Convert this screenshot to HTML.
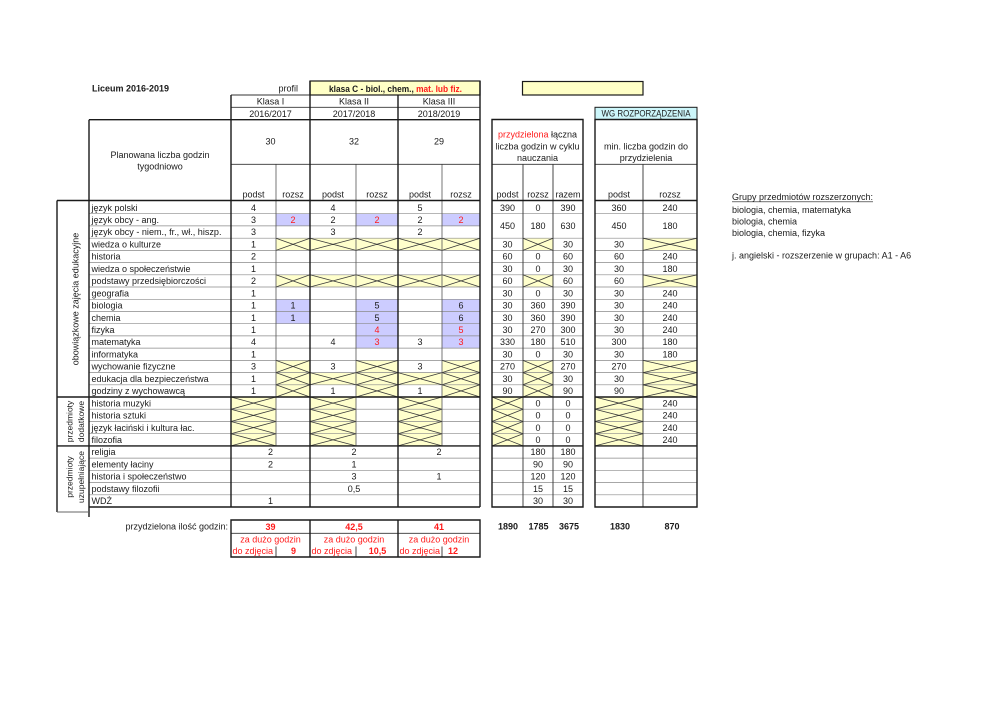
<!DOCTYPE html>
<html><head><meta charset="utf-8"><style>
html,body{margin:0;padding:0;background:#fff;}
svg{display:block;}
.t{font-family:"Liberation Sans",sans-serif;font-size:9px;fill:#1a1a1a;}
.c{text-anchor:middle;}
.e{text-anchor:end;}
.r{fill:#ff1a1a;}
.b{font-weight:bold;}
.s{font-size:8.5px;}
</style></head><body>
<svg width="992" height="702" viewBox="0 0 992 702" xmlns="http://www.w3.org/2000/svg">
<rect width="992" height="702" fill="#fff"/>

<!-- yellow / cyan header boxes -->
<rect x="310" y="81" width="170" height="14" fill="#ffffc6" stroke="#1a1a1a" stroke-width="1.2"/>
<rect x="522.5" y="81.5" width="120.5" height="13.5" fill="#ffffc6" stroke="#1a1a1a" stroke-width="1.2"/>
<rect x="595" y="107.3" width="102" height="12.2" fill="#ccf6fa" stroke="#1a1a1a" stroke-width="1"/>

<!-- blue cells -->
<g fill="#ccccff">
<rect x="276" y="213.7" width="34" height="12.2"/><rect x="356" y="213.7" width="42" height="12.2"/><rect x="442" y="213.7" width="38" height="12.2"/>
<rect x="276" y="299.3" width="34" height="24.4"/><rect x="356" y="299.3" width="42" height="48.8"/><rect x="442" y="299.3" width="38" height="48.8"/>
</g>

<!-- cross cells fills -->
<g fill="#ffffcc">
<rect x="276" y="238.2" width="204" height="12.2"/>
<rect x="276" y="274.8" width="204" height="12.2"/>
<rect x="276" y="360.4" width="34" height="36.6"/>
<rect x="356" y="360.4" width="42" height="36.6"/>
<rect x="442" y="360.4" width="38" height="36.6"/>
<rect x="310" y="372.6" width="46" height="12.2"/>
<rect x="398" y="372.6" width="44" height="12.2"/>
<rect x="231" y="397" width="45" height="48.9"/>
<rect x="310" y="397" width="46" height="48.9"/>
<rect x="398" y="397" width="44" height="48.9"/>
<rect x="523" y="238.2" width="30" height="12.2"/>
<rect x="523" y="274.8" width="30" height="12.2"/>
<rect x="523" y="360.4" width="30" height="36.6"/>
<rect x="492" y="397" width="31" height="48.9"/>
<rect x="643" y="238.2" width="54" height="12.2"/>
<rect x="643" y="274.8" width="54" height="12.2"/>
<rect x="643" y="360.4" width="54" height="36.6"/>
<rect x="595" y="397" width="48" height="48.9"/>
</g>

<!-- row grid lines -->
<path stroke="#8a8a8a" stroke-width="0.7" fill="none" d="
M89 213.7H480M89 225.9H480M89 238.2H480M89 250.4H480M89 262.6H480M89 274.8H480M89 287H480M89 299.3H480M89 311.5H480M89 323.7H480M89 335.9H480M89 348.1H480M89 360.4H480M89 372.6H480M89 384.8H480M89 409.2H480M89 421.5H480M89 433.7H480M89 458.1H480M89 470.3H480M89 482.6H480M89 494.8H480
M492 213.7H583M492 238.2H583M492 250.4H583M492 262.6H583M492 274.8H583M492 287H583M492 299.3H583M492 311.5H583M492 323.7H583M492 335.9H583M492 348.1H583M492 360.4H583M492 372.6H583M492 384.8H583M492 409.2H583M492 421.5H583M492 433.7H583M492 458.1H583M492 470.3H583M492 482.6H583M492 494.8H583
M595 213.7H697M595 238.2H697M595 250.4H697M595 262.6H697M595 274.8H697M595 287H697M595 299.3H697M595 311.5H697M595 323.7H697M595 335.9H697M595 348.1H697M595 360.4H697M595 372.6H697M595 384.8H697M595 409.2H697M595 421.5H697M595 433.7H697M595 458.1H697M595 470.3H697M595 482.6H697M595 494.8H697
"/>

<!-- cross diagonals -->
<path stroke="#3a3a3a" stroke-width="0.8" fill="none" d="
M276 238.2L310 250.4M276 250.4L310 238.2M310 238.2L356 250.4M310 250.4L356 238.2M356 238.2L398 250.4M356 250.4L398 238.2M398 238.2L442 250.4M398 250.4L442 238.2M442 238.2L480 250.4M442 250.4L480 238.2
M276 274.8L310 287M276 287L310 274.8M310 274.8L356 287M310 287L356 274.8M356 274.8L398 287M356 287L398 274.8M398 274.8L442 287M398 287L442 274.8M442 274.8L480 287M442 287L480 274.8
M276 360.4L310 372.6M276 372.6L310 360.4M276 372.6L310 384.8M276 384.8L310 372.6M276 384.8L310 397M276 397L310 384.8
M356 360.4L398 372.6M356 372.6L398 360.4M356 372.6L398 384.8M356 384.8L398 372.6M356 384.8L398 397M356 397L398 384.8
M442 360.4L480 372.6M442 372.6L480 360.4M442 372.6L480 384.8M442 384.8L480 372.6M442 384.8L480 397M442 397L480 384.8
M310 372.6L356 384.8M310 384.8L356 372.6M398 372.6L442 384.8M398 384.8L442 372.6
M231 397L276 409.2M231 409.2L276 397M231 409.2L276 421.5M231 421.5L276 409.2M231 421.5L276 433.7M231 433.7L276 421.5M231 433.7L276 445.9M231 445.9L276 433.7
M310 397L356 409.2M310 409.2L356 397M310 409.2L356 421.5M310 421.5L356 409.2M310 421.5L356 433.7M310 433.7L356 421.5M310 433.7L356 445.9M310 445.9L356 433.7
M398 397L442 409.2M398 409.2L442 397M398 409.2L442 421.5M398 421.5L442 409.2M398 421.5L442 433.7M398 433.7L442 421.5M398 433.7L442 445.9M398 445.9L442 433.7
M523 238.2L553 250.4M523 250.4L553 238.2M523 274.8L553 287M523 287L553 274.8
M523 360.4L553 372.6M523 372.6L553 360.4M523 372.6L553 384.8M523 384.8L553 372.6M523 384.8L553 397M523 397L553 384.8
M492 397L523 409.2M492 409.2L523 397M492 409.2L523 421.5M492 421.5L523 409.2M492 421.5L523 433.7M492 433.7L523 421.5M492 433.7L523 445.9M492 445.9L523 433.7
M643 238.2L697 250.4M643 250.4L697 238.2M643 274.8L697 287M643 287L697 274.8
M643 360.4L697 372.6M643 372.6L697 360.4M643 372.6L697 384.8M643 384.8L697 372.6M643 384.8L697 397M643 397L697 384.8
M595 397L643 409.2M595 409.2L643 397M595 409.2L643 421.5M595 421.5L643 409.2M595 421.5L643 433.7M595 433.7L643 421.5M595 433.7L643 445.9M595 445.9L643 433.7
"/>

<!-- thin vertical lines inside classes -->
<path stroke="#555" stroke-width="0.8" fill="none" d="M276 164.3V445.9M356 164.3V445.9M442 164.3V445.9"/>
<path stroke="#333" stroke-width="0.9" fill="none" d="M231 164.3H480M231 107.3H480M231 95H310M523 164.3V507M553 164.3V507M643 164.3V507M492 164.3H583M595 164.3H697M231 533.3H480M276 546.5V557M356 546.5V557M442 546.5V557"/>

<!-- thick lines -->
<path stroke="#1a1a1a" stroke-width="1.4" fill="none" d="
M231 95V119.7M57 200.5H480M57 397H480M57 445.9H480M89 507H480
M89 119.7H480M89 119.7V517M231 119.7V507M310 81V507M398 95V507M480 81V507
M57 200.5V445.9M57 445.9V512
M492 119.5H583V507H492ZM595 119.5H697V507H595Z
M492 200.5H583M595 200.5H697M492 397H583M595 397H697M492 445.9H583M595 445.9H697
M231 520H480V557H231ZM310 520V557M398 520V557"/>
<path stroke="#666" stroke-width="0.9" fill="none" d="M57 512H89"/>

<!-- top texts -->
<text class="t b" x="92" y="91.5">Liceum 2016-2019</text>
<text class="t e" x="298" y="91.5">profil</text>
<text class="t b c" x="395.5" y="91.8" textLength="133" lengthAdjust="spacingAndGlyphs">klasa C - biol., chem., <tspan class="r">mat. lub fiz.</tspan></text>
<text class="t c" x="270.5" y="104.5">Klasa I</text>
<text class="t c" x="354" y="104.5">Klasa II</text>
<text class="t c" x="439" y="104.5">Klasa III</text>
<text class="t c" x="270.5" y="116.8">2016/2017</text>
<text class="t c" x="354" y="116.8">2017/2018</text>
<text class="t c" x="439" y="116.8">2018/2019</text>
<text class="t c" x="270.5" y="144.5">30</text>
<text class="t c" x="354" y="144.5">32</text>
<text class="t c" x="439" y="144.5">29</text>
<text class="t c" x="160" y="158.2">Planowana liczba godzin</text>
<text class="t c" x="160" y="169.5">tygodniowo</text>
<text class="t c" x="253.5" y="197.3">podst</text>
<text class="t c" x="293" y="197.3">rozsz</text>
<text class="t c" x="333" y="197.3">podst</text>
<text class="t c" x="377" y="197.3">rozsz</text>
<text class="t c" x="420" y="197.3">podst</text>
<text class="t c" x="461" y="197.3">rozsz</text>

<text class="t c" x="537.5" y="137.5"><tspan class="r">przydzielona</tspan> łączna</text>
<text class="t c" x="537.5" y="149.5">liczba godzin w cyklu</text>
<text class="t c" x="537.5" y="160.8">nauczania</text>
<text class="t c" x="646" y="116.6" textLength="89" lengthAdjust="spacingAndGlyphs">WG ROZPORZĄDZENIA</text>
<text class="t c" x="646" y="149.5">min. liczba godzin do</text>
<text class="t c" x="646" y="160.8">przydzielenia</text>
<text class="t c" x="507.5" y="197.3">podst</text>
<text class="t c" x="538" y="197.3">rozsz</text>
<text class="t c" x="568" y="197.3">razem</text>
<text class="t c" x="619" y="197.3">podst</text>
<text class="t c" x="670" y="197.3">rozsz</text>

<!-- vertical category labels -->
<text class="t c" transform="translate(78.5,299) rotate(-90)">obowiązkowe zajęcia edukacyjne</text>
<text class="t c s" transform="translate(72.5,421.5) rotate(-90)">przedmioty</text>
<text class="t c s" transform="translate(84,421.5) rotate(-90)">dodatkowe</text>
<text class="t c s" transform="translate(72.5,477) rotate(-90)">przedmioty</text>
<text class="t c s" transform="translate(84,477) rotate(-90)">uzupełniające</text>

<!-- subject names -->
<g class="t">
<text x="91.5" y="210.8">język polski</text>
<text x="91.5" y="223">język obcy  - ang.</text>
<text x="91.5" y="235.2" textLength="130" lengthAdjust="spacingAndGlyphs">język obcy  - niem., fr., wł., hiszp.</text>
<text x="91.5" y="247.5">wiedza o kulturze</text>
<text x="91.5" y="259.7">historia</text>
<text x="91.5" y="271.9">wiedza o społeczeństwie</text>
<text x="91.5" y="284.1">podstawy przedsiębiorczości</text>
<text x="91.5" y="296.3">geografia</text>
<text x="91.5" y="308.6">biologia</text>
<text x="91.5" y="320.8">chemia</text>
<text x="91.5" y="333">fizyka</text>
<text x="91.5" y="345.2">matematyka</text>
<text x="91.5" y="357.4">informatyka</text>
<text x="91.5" y="369.7">wychowanie fizyczne</text>
<text x="91.5" y="381.9">edukacja dla bezpieczeństwa</text>
<text x="91.5" y="394.1">godziny z wychowawcą</text>
<text x="91.5" y="406.3">historia muzyki</text>
<text x="91.5" y="418.5">historia sztuki</text>
<text x="91.5" y="430.8">język łaciński i kultura łac.</text>
<text x="91.5" y="443">filozofia</text>
<text x="91.5" y="455.2">religia</text>
<text x="91.5" y="467.4">elementy łaciny</text>
<text x="91.5" y="479.6">historia i społeczeństwo</text>
<text x="91.5" y="491.9">podstawy filozofii</text>
<text x="91.5" y="504.1">WDŻ</text>
</g>

<!-- left table values -->
<g class="t c">
<text x="253.5" y="210.8">4</text><text x="333" y="210.8">4</text><text x="420" y="210.8">5</text>
<text x="253.5" y="223">3</text><text x="293" y="223" class="r">2</text><text x="333" y="223">2</text><text x="377" y="223" class="r">2</text><text x="420" y="223">2</text><text x="461" y="223" class="r">2</text>
<text x="253.5" y="235.2">3</text><text x="333" y="235.2">3</text><text x="420" y="235.2">2</text>
<text x="253.5" y="247.5">1</text>
<text x="253.5" y="259.7">2</text>
<text x="253.5" y="271.9">1</text>
<text x="253.5" y="284.1">2</text>
<text x="253.5" y="296.3">1</text>
<text x="253.5" y="308.6">1</text><text x="293" y="308.6">1</text><text x="377" y="308.6">5</text><text x="461" y="308.6">6</text>
<text x="253.5" y="320.8">1</text><text x="293" y="320.8">1</text><text x="377" y="320.8">5</text><text x="461" y="320.8">6</text>
<text x="253.5" y="333">1</text><text x="377" y="333" class="r">4</text><text x="461" y="333" class="r">5</text>
<text x="253.5" y="345.2">4</text><text x="333" y="345.2">4</text><text x="377" y="345.2" class="r">3</text><text x="420" y="345.2">3</text><text x="461" y="345.2" class="r">3</text>
<text x="253.5" y="357.4">1</text>
<text x="253.5" y="369.7">3</text><text x="333" y="369.7">3</text><text x="420" y="369.7">3</text>
<text x="253.5" y="381.9">1</text>
<text x="253.5" y="394.1">1</text><text x="333" y="394.1">1</text><text x="420" y="394.1">1</text>
<text x="270.5" y="455.2">2</text><text x="354" y="455.2">2</text><text x="439" y="455.2">2</text>
<text x="270.5" y="467.4">2</text><text x="354" y="467.4">1</text>
<text x="354" y="479.6">3</text><text x="439" y="479.6">1</text>
<text x="354" y="491.9">0,5</text>
<text x="270.5" y="504.1">1</text>
</g>

<!-- right table 1 values -->
<g class="t c">
<text x="507.5" y="210.8">390</text><text x="538" y="210.8">0</text><text x="568" y="210.8">390</text>
<text x="507.5" y="229.1">450</text><text x="538" y="229.1">180</text><text x="568" y="229.1">630</text>
<text x="507.5" y="247.5">30</text><text x="568" y="247.5">30</text>
<text x="507.5" y="259.7">60</text><text x="538" y="259.7">0</text><text x="568" y="259.7">60</text>
<text x="507.5" y="271.9">30</text><text x="538" y="271.9">0</text><text x="568" y="271.9">30</text>
<text x="507.5" y="284.1">60</text><text x="568" y="284.1">60</text>
<text x="507.5" y="296.3">30</text><text x="538" y="296.3">0</text><text x="568" y="296.3">30</text>
<text x="507.5" y="308.6">30</text><text x="538" y="308.6">360</text><text x="568" y="308.6">390</text>
<text x="507.5" y="320.8">30</text><text x="538" y="320.8">360</text><text x="568" y="320.8">390</text>
<text x="507.5" y="333">30</text><text x="538" y="333">270</text><text x="568" y="333">300</text>
<text x="507.5" y="345.2">330</text><text x="538" y="345.2">180</text><text x="568" y="345.2">510</text>
<text x="507.5" y="357.4">30</text><text x="538" y="357.4">0</text><text x="568" y="357.4">30</text>
<text x="507.5" y="369.7">270</text><text x="568" y="369.7">270</text>
<text x="507.5" y="381.9">30</text><text x="568" y="381.9">30</text>
<text x="507.5" y="394.1">90</text><text x="568" y="394.1">90</text>
<text x="538" y="406.3">0</text><text x="568" y="406.3">0</text>
<text x="538" y="418.5">0</text><text x="568" y="418.5">0</text>
<text x="538" y="430.8">0</text><text x="568" y="430.8">0</text>
<text x="538" y="443">0</text><text x="568" y="443">0</text>
<text x="538" y="455.2">180</text><text x="568" y="455.2">180</text>
<text x="538" y="467.4">90</text><text x="568" y="467.4">90</text>
<text x="538" y="479.6">120</text><text x="568" y="479.6">120</text>
<text x="538" y="491.9">15</text><text x="568" y="491.9">15</text>
<text x="538" y="504.1">30</text><text x="568" y="504.1">30</text>
</g>

<!-- right table 2 values -->
<g class="t c">
<text x="619" y="210.8">360</text><text x="670" y="210.8">240</text>
<text x="619" y="229.1">450</text><text x="670" y="229.1">180</text>
<text x="619" y="247.5">30</text>
<text x="619" y="259.7">60</text><text x="670" y="259.7">240</text>
<text x="619" y="271.9">30</text><text x="670" y="271.9">180</text>
<text x="619" y="284.1">60</text>
<text x="619" y="296.3">30</text><text x="670" y="296.3">240</text>
<text x="619" y="308.6">30</text><text x="670" y="308.6">240</text>
<text x="619" y="320.8">30</text><text x="670" y="320.8">240</text>
<text x="619" y="333">30</text><text x="670" y="333">240</text>
<text x="619" y="345.2">300</text><text x="670" y="345.2">180</text>
<text x="619" y="357.4">30</text><text x="670" y="357.4">180</text>
<text x="619" y="369.7">270</text>
<text x="619" y="381.9">30</text>
<text x="619" y="394.1">90</text>
<text x="670" y="406.3">240</text>
<text x="670" y="418.5">240</text>
<text x="670" y="430.8">240</text>
<text x="670" y="443">240</text>
</g>

<!-- bottom -->
<text class="t e" x="228" y="529.6">przydzielona ilość godzin:</text>
<g class="t c r">
<text class="b" x="270.5" y="529.8">39</text>
<text class="b" x="354" y="529.8">42,5</text>
<text class="b" x="439" y="529.8">41</text>
<text x="270.5" y="542.3">za dużo godzin</text>
<text x="354" y="542.3">za dużo godzin</text>
<text x="439" y="542.3">za dużo godzin</text>
<text class="b" x="293.5" y="553.8">9</text>
<text class="b" x="377.5" y="553.8">10,5</text>
<text class="b" x="453" y="553.8">12</text>
</g>
<g class="t r">
<text x="232.5" y="553.8">do zdjęcia</text>
<text x="311.5" y="553.8">do zdjęcia</text>
<text x="399.5" y="553.8">do zdjęcia</text>
</g>
<g class="t b c">
<text x="508" y="529.6">1890</text>
<text x="538.5" y="529.6">1785</text>
<text x="569" y="529.6">3675</text>
<text x="620" y="529.6">1830</text>
<text x="672" y="529.6">870</text>
</g>

<!-- right notes -->
<text class="t" x="732" y="200">Grupy przedmiotów rozszerzonych:</text>
<line x1="732" y1="201.8" x2="873" y2="201.8" stroke="#1a1a1a" stroke-width="0.6"/>
<text class="t" x="732" y="213.2">biologia, chemia, matematyka</text>
<text class="t" x="732" y="224.7">biologia, chemia</text>
<text class="t" x="732" y="236.2">biologia, chemia, fizyka</text>
<text class="t" x="732" y="258.5">j. angielski - rozszerzenie w grupach: A1 - A6</text>
</svg>
</body></html>
